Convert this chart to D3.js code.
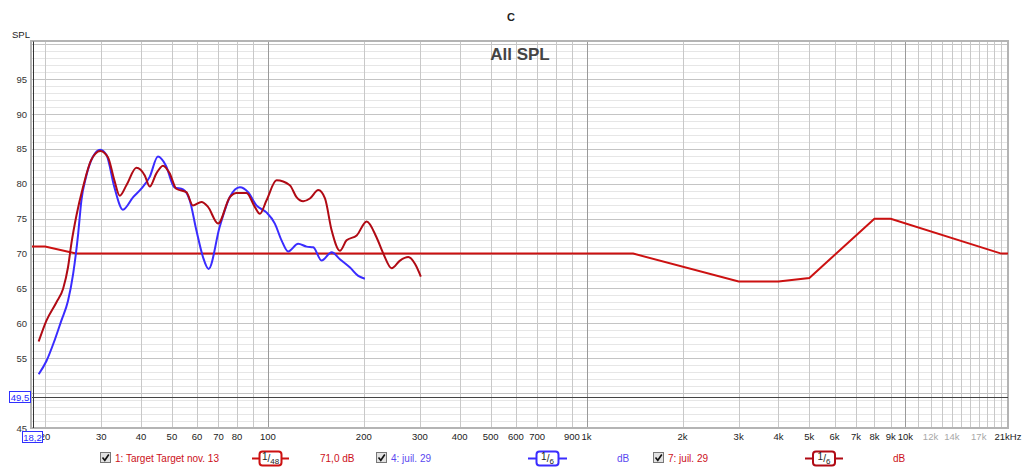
<!DOCTYPE html>
<html>
<head>
<meta charset="utf-8">
<script src="https://cdn.jsdelivr.net/npm/d3@7"></script>
<style>
  body { margin: 0; background: #fff; }
  text { font-family: "Liberation Sans", Arial, sans-serif; }
</style>
</head>
<body>
<script>
var svgWidth = 1024
var svgHeight = 468

// target curve (1: Target Target nov. 13)
var targetFreq = [18.2, 20, 25, 1400, 3000, 4000, 5000, 8000, 9000, 20000, 21000];
var targetSpl  = [71, 71, 70, 70, 66, 66, 66.5, 75, 75, 70, 70];

// 4: juil. 29 (blue)
var blueFreq = [19.1, 20.2, 21.4, 22.5, 23.6, 24.5, 25.4, 26.0, 26.9, 28.2, 29.8, 31.2, 33.0, 35.1, 37.8, 40.1, 42.6, 45.2,
  47.9, 50.9, 54.2, 56.9, 59.7, 62.6, 65.2, 70.6, 76.0, 81.7, 86.7, 92.1, 99.0, 105.2, 110.4, 115.8, 124.5, 132.3, 138.8,
  147.4, 158.6, 168.3, 181.1, 192.2, 201.6];
var blueSpl = [52.7, 54.6, 57.5, 60.4, 63.2, 67.1, 72.8, 77.6, 81.0, 83.8, 84.9, 84.1, 79.5, 76.3, 78.1, 79.3, 81.0, 83.9,
  82.6, 79.5, 79.2, 77.6, 73.3, 69.5, 67.8, 73.8, 78.1, 79.5, 78.8, 76.9, 75.9, 74.3, 71.9, 70.3, 71.4, 71.0, 70.9,
  69.0, 70.2, 69.2, 68.0, 66.8, 66.4];

// 7: juil. 29 (red)
var redFreq = [19.1, 20.2, 21.7, 22.8, 23.6, 24.2, 25.1, 26.3, 27.9, 29.8, 31.5, 33.0, 34.3, 36.0, 38.7, 41.1, 42.6, 44.7,
  46.9, 49.2, 51.6, 55.5, 58.2, 61.9, 64.9, 69.8, 76.0, 79.8, 85.7, 91.0, 94.4, 99.0, 106.5, 117.2, 123.0, 129.1, 135.5,
  144.0, 151.1, 158.6, 168.3, 176.6, 190.0, 204.2, 219.4, 230.3, 244.6, 259.8, 275.9, 289.7, 302.0];
var redSpl = [57.4, 60.4, 63.0, 65.0, 68.0, 71.5, 75.5, 79.5, 83.4, 84.7, 83.8, 80.5, 78.3, 79.8, 82.3, 81.2, 79.6, 81.5,
  82.6, 81.5, 79.3, 78.8, 76.9, 77.4, 76.7, 74.3, 78.1, 78.7, 78.7, 76.7, 75.7, 77.6, 80.5, 79.8, 78.1, 77.5, 77.9,
  79.1, 77.9, 73.3, 70.4, 71.9, 72.6, 74.6, 72.3, 70.0, 67.9, 69.0, 69.5, 68.5, 66.7];

// axis labels
var xTickValues = [20, 30, 40, 50, 60, 70, 80, 100, 200, 300, 400, 500, 600, 700, 900, 1000, 2000, 3000, 4000, 5000,
  6000, 7000, 8000, 9000, 10000, 12000, 14000, 17000, 21000];
var xTickLabels = ["20", "30", "40", "50", "60", "70", "80", "100", "200", "300", "400", "500", "600", "700", "900", "1k",
  "2k", "3k", "4k", "5k", "6k", "7k", "8k", "9k", "10k", "12k", "14k", "17k", "21kHz"];
var yTickValues = [95, 90, 85, 80, 75, 70, 65, 60, 55, 50, 45];

var cursorFreq = 18.2;
var cursorSpl = 49.5;

var svg = d3.select("body").append("svg").attr("width", svgWidth).attr("height", svgHeight);

var x = d3.scaleLog().domain([18.2, 21000]).range([32, 1008]);
var y = d3.scaleLinear().domain([45, 100.4]).range([428, 41.5]);

var plot = svg.append("g");

// horizontal grid, 1 dB
d3.range(46, 101).forEach(function(v) {
  plot.append("line").attr("x1", x.range()[0]).attr("x2", x.range()[1])
    .attr("y1", Math.round(y(v)) + 0.5).attr("y2", Math.round(y(v)) + 0.5)
    .attr("stroke", v % 5 == 0 ? "#c4c4c4" : "#e6e6e6").attr("stroke-width", 1);
});

// vertical grid
var gridF = [];
[10, 100, 1000].forEach(function(dec) {
  for (var k = 1; k < 10; k++) gridF.push(dec * k);
});
for (var k = 10; k <= 20; k++) gridF.push(k * 1000);
gridF = gridF.filter(function(f) { return f > 18.2 && f < 21000; });
plot.selectAll("line.vgrid").data(gridF).enter().append("line")
  .attr("class", "vgrid")
  .attr("x1", d => Math.round(x(d)) + 0.5).attr("x2", d => Math.round(x(d)) + 0.5)
  .attr("y1", y.range()[1]).attr("y2", y.range()[0])
  .attr("stroke", d => (d == 100 || d == 1000 || d == 10000) ? "#9a9a9a" : "#c8c8c8")
  .attr("stroke-width", 1);

// frame
plot.append("rect").attr("x", 31).attr("y", 41).attr("width", 977).attr("height", 387)
  .attr("fill", "none").attr("stroke", "#b4b4b4").attr("stroke-width", 2);

// cursor lines
plot.append("line").attr("x1", x(cursorFreq) + 1.5).attr("x2", x(cursorFreq) + 1.5)
  .attr("y1", y.range()[1]).attr("y2", y.range()[0]).attr("stroke", "#333").attr("stroke-width", 1);
plot.append("line").attr("x1", x.range()[0]).attr("x2", x.range()[1])
  .attr("y1", Math.round(y(cursorSpl)) + 0.5).attr("y2", Math.round(y(cursorSpl)) + 0.5)
  .attr("stroke", "#444").attr("stroke-width", 1);

// curves
var lineSmooth = d3.line().x(d => x(d[0])).y(d => y(d[1])).curve(d3.curveMonotoneX);
var lineStraight = d3.line().x(d => x(d[0])).y(d => y(d[1]));

plot.append("path").datum(d3.zip(targetFreq, targetSpl)).attr("d", lineStraight)
  .attr("fill", "none").attr("stroke", "#cc1111").attr("stroke-width", 2);
plot.append("path").datum(d3.zip(blueFreq, blueSpl)).attr("d", lineSmooth)
  .attr("fill", "none").attr("stroke", "#3a2cff").attr("stroke-width", 2);
plot.append("path").datum(d3.zip(redFreq, redSpl)).attr("d", lineSmooth)
  .attr("fill", "none").attr("stroke", "#b00a14").attr("stroke-width", 2);

// y labels
svg.selectAll("text.ytick").data(yTickValues).enter().append("text")
  .attr("class", "ytick").attr("x", 27).attr("y", d => y(d) + 3.5)
  .attr("text-anchor", "end").attr("font-size", 9.5).attr("fill", "#333").text(d => d);

// x labels
svg.selectAll("text.xtick").data(xTickValues).enter().append("text")
  .attr("class", "xtick").attr("x", d => x(d)).attr("y", 440)
  .attr("text-anchor", "middle").attr("font-size", 9.5)
  .attr("fill", d => (d == 12000 || d == 14000 || d == 17000) ? "#a8a8a8" : "#222")
  .text((d, i) => xTickLabels[i]);

// cursor value boxes
function valueBox(cx, cy, w, label) {
  svg.append("rect").attr("x", cx).attr("y", cy).attr("width", w).attr("height", 11)
    .attr("fill", "#fff").attr("stroke", "#3030ff").attr("stroke-width", 1);
  svg.append("text").attr("x", cx + w / 2).attr("y", cy + 9).attr("text-anchor", "middle")
    .attr("font-size", 9.5).attr("fill", "#2a2aff").text(label);
}
valueBox(9.5, 391.5, 21, "49,5");
valueBox(22.5, 431.5, 20, "18,2");

// titles
svg.append("text").attr("x", 12).attr("y", 38).attr("font-size", 9.5).attr("fill", "#222").text("SPL");
svg.append("text").attr("x", 511).attr("y", 21).attr("text-anchor", "middle").attr("font-size", 11)
  .attr("font-weight", "bold").attr("fill", "#222").text("C");
svg.append("text").attr("x", 520).attr("y", 60).attr("text-anchor", "middle").attr("font-size", 17)
  .attr("font-weight", "bold").attr("fill", "#444").text("All SPL");

// legend
function checkbox(cx) {
  var g = svg.append("g").attr("transform", `translate(${cx},452)`);
  g.append("rect").attr("x", 0.5).attr("y", 0.5).attr("width", 10).attr("height", 10)
    .attr("fill", "#e2e2e2").attr("stroke", "#777");
  g.append("path").attr("d", "M2.5,5.5 L4.8,8.3 L8.8,2.5").attr("fill", "none").attr("stroke", "#111").attr("stroke-width", 1.6);
}
function smoothSymbol(x0, x1, color, denom) {
  var g = svg.append("g");
  g.append("line").attr("x1", x0).attr("x2", x1).attr("y1", 458.5).attr("y2", 458.5)
    .attr("stroke", color).attr("stroke-width", 2);
  var bx = (x0 + x1) / 2 - 11;
  g.append("rect").attr("x", bx).attr("y", 451.5).attr("width", 22).attr("height", 14).attr("rx", 3)
    .attr("fill", "#fff").attr("stroke", color).attr("stroke-width", 2);
  var t = g.append("text").attr("x", bx + 11).attr("y", 462).attr("text-anchor", "middle")
    .attr("font-size", 10).attr("fill", "#222");
  t.append("tspan").attr("dy", -2).text("1");
  t.append("tspan").attr("dy", 2).text("/");
  t.append("tspan").attr("font-size", 8).attr("dy", 2).text(denom);
}
var legendItems = [
  { box: 100, label: "1: Target Target nov. 13", lx: 115, color: "#cc1020", sym: [252, 289], den: "48", val: "71,0 dB", vx: 320 },
  { box: 376, label: "4: juil. 29", lx: 391, color: "#5a48f0", sym: [528, 567], den: "6", val: "dB", vx: 617, symColor: "#3a2cff" },
  { box: 653, label: "7: juil. 29", lx: 668, color: "#cc1020", sym: [805, 843], den: "6", val: "dB", vx: 893, symColor: "#b00a14" }
];
legendItems.forEach(function(d) {
  checkbox(d.box);
  svg.append("text").attr("x", d.lx).attr("y", 462).attr("font-size", 10).attr("fill", d.color).text(d.label);
  smoothSymbol(d.sym[0], d.sym[1], d.symColor || "#cc1111", d.den);
  svg.append("text").attr("x", d.vx).attr("y", 462).attr("font-size", 10).attr("fill", d.color).text(d.val);
});
</script>
</body>
</html>
